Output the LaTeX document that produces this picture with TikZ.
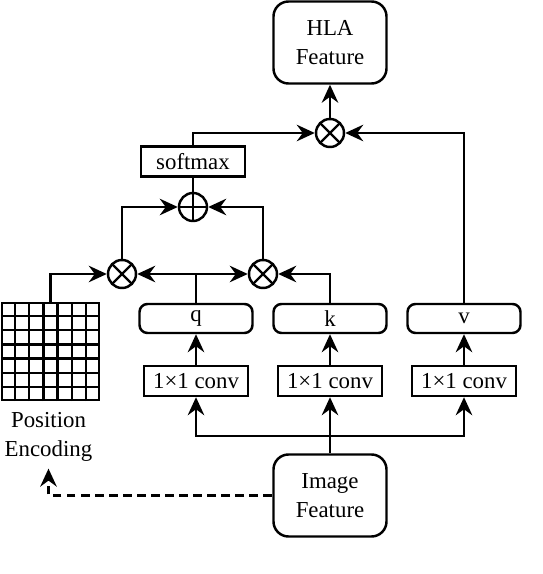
\documentclass[tikz,border=0pt]{standalone}
\usepackage{fontspec}
\setmainfont{Liberation Serif}
\usepackage{tikz}
\usetikzlibrary{arrows.meta, calc}

\begin{document}
\begin{tikzpicture}[
    line width=1.4pt,
    font=\fontsize{13}{16.5}\selectfont,
    caja/.style={draw, rounded corners=0.3cm, minimum width=2.26cm,
                 minimum height=1.64cm, align=center, inner sep=0pt},
    vec/.style={draw, rounded corners=0.16cm, minimum width=2.26cm,
                minimum height=0.58cm, inner sep=0pt},
    conv/.style={draw, minimum width=2.08cm, minimum height=0.6cm, inner sep=0pt},
    op/.style={draw, circle, minimum size=0.56cm, inner sep=0pt},
    mult/.style={op, path picture={
        \draw (path picture bounding box.north east) -- (path picture bounding box.south west);
        \draw (path picture bounding box.north west) -- (path picture bounding box.south east);}},
    suma/.style={op, path picture={
        \draw (path picture bounding box.north) -- (path picture bounding box.south);
        \draw (path picture bounding box.west) -- (path picture bounding box.east);}},
    flecha/.style={-{Stealth[length=3.6mm, width=3.3mm, inset=1.2mm]}},
]
\useasboundingbox (0,0) rectangle (10.84,11.48);

%% Cajas principales
\node[caja] at (6.6, 10.63) (hla) {HLA\\Feature};
\node[caja] at (6.6, 1.57)  (img) {Image\\Feature};
\node[mult] at (6.6, 8.82)  (mulv) {};
\node[conv] at (3.86, 8.25) (sm) {softmax};
\node[suma] at (3.86, 7.34) (add) {};
\node[mult] at (2.44, 6.0)  (mulq) {};
\node[mult] at (5.26, 6.0)  (mulk) {};

%% q, k, v y sus convoluciones
\node[vec]  at (3.92, 5.11) (q)  {q};
\node[vec]  at (6.6, 5.11)  (k)  {k};
\node[vec]  at (9.28, 5.11) (v)  {v};
\node[conv] at (3.92, 3.86) (cq) {1×1 conv};
\node[conv] at (6.6, 3.86)  (ck) {1×1 conv};
\node[conv] at (9.28, 3.86) (cv) {1×1 conv};

%% Codificacion de posicion (rejilla 7x7)
\node[draw, minimum size=1.94cm, inner sep=0pt] at (1.01, 4.45) (pe) {};
\foreach \i in {1,...,6} {
  \draw ($(pe.south west)!\i/7!(pe.south east)$) -- ($(pe.north west)!\i/7!(pe.north east)$);
  \draw ($(pe.south west)!\i/7!(pe.north west)$) -- ($(pe.south east)!\i/7!(pe.north east)$);
}
\node[align=center] at (0.97, 2.74) (pelab) {Position\\Encoding};

%% Conexiones
\coordinate (rama) at (6.6, 2.76);
\draw[flecha] (img) -- (ck);
\draw[flecha] (rama) -| (cq);
\draw[flecha] (rama) -| (cv);
\draw[flecha, dash pattern=on 5pt off 3pt] (img.west) -| (pelab.south);
\draw[flecha] (cq) -- (q);
\draw[flecha] (ck) -- (k);
\draw[flecha] (cv) -- (v);
\draw[flecha] (pe.north) |- (mulq);
\draw[flecha] (q.north) |- (mulq);
\draw[flecha] (q.north) |- (mulk);
\draw[flecha] (k.north) |- (mulk);
\draw[flecha] (mulq.north) |- (add);
\draw[flecha] (mulk.north) |- (add);
\draw (add) -- (sm);
\draw[flecha] (sm.north) |- (mulv);
\draw[flecha] (v.north) |- (mulv);
\draw[flecha] (mulv) -- (hla);
\end{tikzpicture}
\end{document}
